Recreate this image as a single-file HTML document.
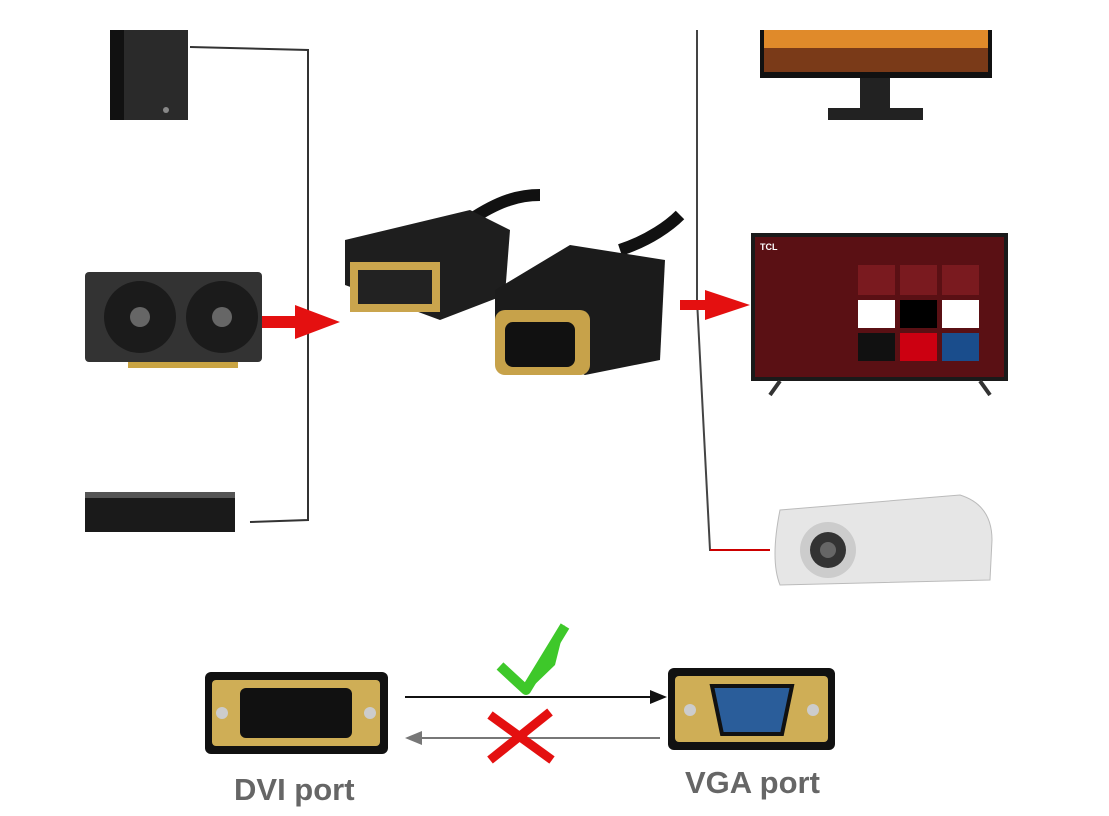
<!DOCTYPE html>
<html><head><meta charset="utf-8"><style>
html,body{margin:0;padding:0;background:#fff;}
body{width:1109px;height:816px;position:relative;overflow:hidden;font-family:"Liberation Sans",sans-serif;}
.a{position:absolute;}
</style></head><body>
<svg class="a" style="left:0;top:0" width="1109" height="816" viewBox="0 0 1109 816">
<!-- left wiring -->
<polyline points="190,47 308,50 308,520 250,522" fill="none" stroke="#333" stroke-width="2"/>
<polyline points="697,30 697,300 710,550 770,550" fill="none" stroke="#444" stroke-width="2"/>
<line x1="710" y1="550" x2="770" y2="550" stroke="#c00" stroke-width="2"/>
<!-- PC tower -->
<rect x="110" y="30" width="78" height="90" fill="#2a2a2a"/>
<rect x="110" y="30" width="14" height="90" fill="#111"/>
<circle cx="166" cy="110" r="3" fill="#888"/>
<!-- GPU -->
<rect x="85" y="272" width="177" height="90" rx="4" fill="#333"/>
<circle cx="140" cy="317" r="36" fill="#1b1b1b"/><circle cx="140" cy="317" r="10" fill="#666"/>
<circle cx="222" cy="317" r="36" fill="#1b1b1b"/><circle cx="222" cy="317" r="10" fill="#666"/>
<rect x="128" y="362" width="110" height="6" fill="#c9a443"/>
<!-- Blu-ray -->
<rect x="85" y="492" width="150" height="40" fill="#1a1a1a"/>
<rect x="85" y="492" width="150" height="6" fill="#555"/>
<!-- red arrows -->
<polygon points="262,316 295,316 295,305 340,322 295,339 295,328 262,328" fill="#e41010"/>
<polygon points="680,300 705,300 705,290 750,305 705,320 705,310 680,310" fill="#e41010"/>
<!-- cable -->
<path d="M470 220 C500 200 520 195 540 195" stroke="#111" stroke-width="12" fill="none"/>
<path d="M620 250 C650 240 670 225 680 215" stroke="#111" stroke-width="12" fill="none"/>
<polygon points="345,240 470,210 510,230 505,295 440,320 345,285" fill="#1e1e1e"/>
<rect x="350" y="262" width="90" height="50" fill="#caa54d"/>
<rect x="358" y="270" width="74" height="34" fill="#222"/>
<polygon points="495,290 570,245 665,260 660,360 585,375 495,340" fill="#1b1b1b"/>
<rect x="495" y="310" width="95" height="65" rx="10" fill="#c7a24a"/>
<rect x="505" y="322" width="70" height="45" rx="8" fill="#111"/>
<!-- monitor -->
<rect x="760" y="30" width="232" height="48" fill="#111"/>
<rect x="764" y="30" width="224" height="42" fill="#7a3a18"/>
<rect x="764" y="30" width="224" height="18" fill="#e08a2a"/>
<rect x="860" y="78" width="30" height="30" fill="#222"/>
<rect x="828" y="108" width="95" height="12" fill="#222"/>
<!-- TV -->
<rect x="751" y="233" width="257" height="148" fill="#1a1a1a"/>
<rect x="755" y="237" width="249" height="140" fill="#5a1014"/>
<rect x="858" y="300" width="37" height="28" fill="#fff"/><rect x="900" y="300" width="37" height="28" fill="#000"/><rect x="942" y="300" width="37" height="28" fill="#fff"/>
<rect x="858" y="333" width="37" height="28" fill="#111"/><rect x="900" y="333" width="37" height="28" fill="#c01"/><rect x="942" y="333" width="37" height="28" fill="#1a4d8c"/>
<rect x="858" y="265" width="37" height="30" fill="#7a1a1f"/><rect x="900" y="265" width="37" height="30" fill="#7a1a1f"/><rect x="942" y="265" width="37" height="30" fill="#7a1a1f"/>
<text x="760" y="250" fill="#fff" font-size="9" font-weight="bold">TCL</text>
<line x1="780" y1="381" x2="770" y2="395" stroke="#333" stroke-width="4"/><line x1="980" y1="381" x2="990" y2="395" stroke="#333" stroke-width="4"/>
<!-- projector -->
<path d="M780 510 L960 495 Q992 505 992 540 L990 580 L780 585 Q770 560 780 510Z" fill="#e6e6e6" stroke="#bbb"/>
<circle cx="828" cy="550" r="28" fill="#ccc"/><circle cx="828" cy="550" r="18" fill="#333"/><circle cx="828" cy="550" r="8" fill="#666"/>
<!-- bottom connectors -->
<rect x="205" y="672" width="183" height="82" rx="6" fill="#111"/>
<rect x="212" y="680" width="168" height="66" rx="4" fill="#cfae56"/>
<rect x="240" y="688" width="112" height="50" rx="6" fill="#111"/>
<circle cx="222" cy="713" r="6" fill="#ccc"/><circle cx="370" cy="713" r="6" fill="#ccc"/>
<rect x="668" y="668" width="167" height="82" rx="6" fill="#111"/>
<rect x="675" y="676" width="153" height="66" rx="4" fill="#cfae56"/>
<path d="M712 686 L792 686 L782 734 L722 734Z" fill="#2a5d9a" stroke="#111" stroke-width="4"/>
<circle cx="690" cy="710" r="6" fill="#ccc"/><circle cx="813" cy="710" r="6" fill="#ccc"/>
<!-- arrows -->
<line x1="405" y1="697" x2="655" y2="697" stroke="#111" stroke-width="2"/>
<polygon points="667,697 650,690 650,704" fill="#111"/>
<line x1="420" y1="738" x2="660" y2="738" stroke="#777" stroke-width="2"/>
<polygon points="405,738 422,731 422,745" fill="#777"/>
<path d="M500 665 L525 688 L565 625 L555 665 L527 692Z" fill="#3ec82a"/>
<path d="M500 666 L526 690 L565 626" fill="none" stroke="#3ec82a" stroke-width="10" stroke-linejoin="round"/>
<line x1="490" y1="715" x2="552" y2="760" stroke="#e41010" stroke-width="9"/>
<line x1="550" y1="712" x2="490" y2="760" stroke="#e41010" stroke-width="9"/>
</svg>
<div class="a" style="left:234px;top:772px;font-size:31px;font-weight:bold;color:#666">DVI port</div>
<div class="a" style="left:685px;top:765px;font-size:31px;font-weight:bold;color:#666">VGA port</div>
</body></html>
